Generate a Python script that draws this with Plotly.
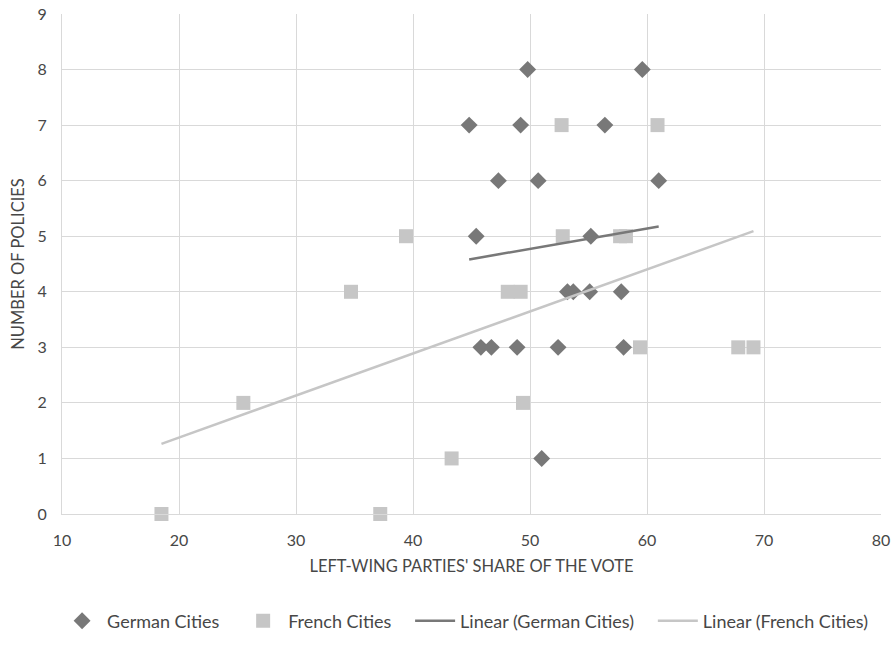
import numpy as np
import plotly.graph_objects as go

german_x = [49.8, 59.6, 44.8, 49.2, 56.4, 47.3, 50.7, 61.0, 45.4, 55.2,
            53.2, 53.7, 55.1, 57.8, 45.8, 46.7, 48.9, 52.4, 58.0, 51.0]
german_y = [8, 8, 7, 7, 7, 6, 6, 6, 5, 5,
            4, 4, 4, 4, 3, 3, 3, 3, 3, 1]
french_x = [52.7, 60.9, 52.8, 57.7, 58.2, 39.4, 48.1, 49.2, 34.7, 59.4,
            67.8, 69.1, 49.4, 25.5, 43.3, 18.5, 37.2]
french_y = [7, 7, 5, 5, 5, 5, 4, 4, 4, 3,
            3, 3, 2, 2, 1, 0, 0]

x_ticks = [10, 20, 30, 40, 50, 60, 70, 80]
y_ticks = [0, 1, 2, 3, 4, 5, 6, 7, 8, 9]

def trend(xs, ys):
    m, b = np.polyfit(xs, ys, 1)
    xr = np.array([min(xs), max(xs)])
    return xr, m * xr + b

gx, gy = trend(german_x, german_y)
fx, fy = trend(french_x, french_y)

DARK = "#787878"
LIGHT = "#c6c6c6"
FONT = "Lato"
TXT = "#474747"
PAD = "\u00a0" * 3

fig = go.Figure()
fig.add_trace(go.Scatter(x=german_x, y=german_y, mode="markers", name="German Cities" + PAD,
                         marker=dict(symbol="diamond", size=13, color=DARK), cliponaxis=False))
fig.add_trace(go.Scatter(x=french_x, y=french_y, mode="markers", name="French Cities" + PAD,
                         marker=dict(symbol="square", size=14, color=LIGHT), cliponaxis=False))
fig.add_trace(go.Scatter(x=gx, y=gy, mode="lines", name="Linear (German Cities)" + PAD,
                         line=dict(color=DARK, width=2.5)))
fig.add_trace(go.Scatter(x=fx, y=fy, mode="lines", name="Linear (French Cities)",
                         line=dict(color=LIGHT, width=2.5)))

axis_font = dict(family=FONT, size=16, color=TXT)
fig.update_layout(
    width=896, height=651,
    margin=dict(l=62, r=15, t=14, b=123),
    plot_bgcolor="white", paper_bgcolor="white",
    font=dict(family=FONT, size=16, color=TXT),
    xaxis=dict(range=[10, 80], tickvals=x_ticks, showgrid=True, gridcolor="#d9d9d9",
               gridwidth=1, zeroline=False, showline=True, linecolor="#d9d9d9",
               tickfont=axis_font, ticks="outside", ticklen=12, tickcolor="rgba(0,0,0,0)",
               automargin=False,
               title=dict(text="LEFT-WING PARTIES' SHARE OF THE VOTE",
                          font=dict(family=FONT, size=16.5, color=TXT), standoff=12)),
    yaxis=dict(range=[0, 9], tickvals=y_ticks, showgrid=True, gridcolor="#d9d9d9",
               gridwidth=1, zeroline=False, showline=True, linecolor="#d9d9d9",
               tickfont=axis_font, ticks="outside", ticklen=11, tickcolor="rgba(0,0,0,0)",
               automargin=False,
               title=dict(text="NUMBER OF POLICIES",
                          font=dict(family=FONT, size=16.5, color=TXT), standoff=8)),
    legend=dict(orientation="h", x=-0.006, xanchor="left", y=-0.214, yanchor="middle",
                font=dict(family=FONT, size=18, color=TXT), itemwidth=40),
    showlegend=True,
)

fig.write_html("out.html", config={"displayModeBar": False},
               post_script="document.body.style.margin='0';")
